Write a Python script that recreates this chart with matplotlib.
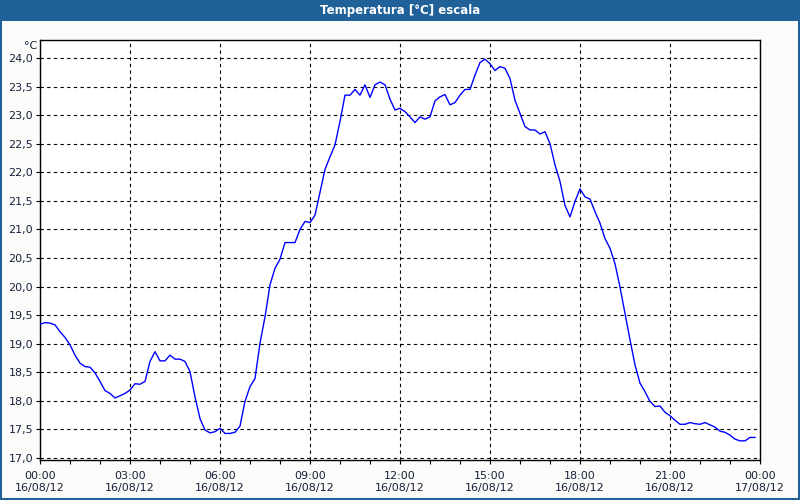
import numpy as np
import matplotlib.pyplot as plt
from matplotlib.patches import Rectangle

# temperature readings every 10 minutes, 16/08/12 00:00 -> 23:50
temps = [
    19.34, 19.37, 19.36, 19.33, 19.21, 19.11, 18.98, 18.80, 18.66, 18.60,
    18.59, 18.49, 18.34, 18.18, 18.13, 18.05, 18.09, 18.13, 18.19, 18.30,
    18.29, 18.34, 18.69, 18.86, 18.70, 18.70, 18.80, 18.73, 18.73, 18.69,
    18.51, 18.07, 17.69, 17.49, 17.44, 17.46, 17.52, 17.43, 17.43, 17.45,
    17.56, 17.99, 18.25, 18.39, 19.01, 19.47, 20.03, 20.32, 20.48, 20.77,
    20.77, 20.77, 21.00, 21.14, 21.12, 21.25, 21.65, 22.05, 22.27, 22.48,
    22.89, 23.35, 23.35, 23.45, 23.35, 23.53, 23.31, 23.53, 23.58, 23.53,
    23.28, 23.09, 23.12, 23.06, 22.97, 22.87, 22.97, 22.93, 22.97, 23.25,
    23.32, 23.36, 23.18, 23.22, 23.35, 23.45, 23.45, 23.70, 23.92, 23.98,
    23.90, 23.78, 23.85, 23.82, 23.64, 23.26, 23.03, 22.80, 22.74, 22.74,
    22.67, 22.71, 22.50, 22.13, 21.84, 21.42, 21.22, 21.49, 21.71, 21.57,
    21.53, 21.31, 21.11, 20.84, 20.67, 20.40, 19.99, 19.53, 19.07, 18.63,
    18.31, 18.16, 17.99, 17.90, 17.91, 17.80, 17.74, 17.66, 17.59, 17.59,
    17.62, 17.60, 17.59, 17.62, 17.58, 17.54, 17.47, 17.45, 17.40, 17.33,
    17.30, 17.30, 17.36, 17.36,
]
hours = np.arange(len(temps)) * 10 / 60.0

xtick_hours = [0, 3, 6, 9, 12, 15, 18, 21, 24]
xtick_labels = ['00:00\n16/08/12', '03:00\n16/08/12', '06:00\n16/08/12',
                '09:00\n16/08/12', '12:00\n16/08/12', '15:00\n16/08/12',
                '18:00\n16/08/12', '21:00\n16/08/12', '00:00\n17/08/12']
yticks = np.arange(17.0, 24.01, 0.5)

title = 'Temperatura [°C] escala'
blue = '#1f6198'
txt = '#1e1e3c'

fig = plt.figure(figsize=(8, 5), dpi=100)
fig.patch.set_facecolor('#fafcfa')

# window frame: title bar and thin border
fig.patches.append(Rectangle((0, 0.958), 1, 0.042, transform=fig.transFigure,
                             facecolor=blue, edgecolor='none', zorder=0))
for r in [(0, 0, 0.003, 1), (0.997, 0, 0.003, 1), (0, 0, 1, 0.005)]:
    fig.patches.append(Rectangle(r[:2], r[2], r[3], transform=fig.transFigure,
                                 facecolor=blue, edgecolor='none', zorder=0))
fig.text(0.5, 0.979, title, color='white', fontsize=8.5, fontweight='bold',
         ha='center', va='center')

ax = fig.add_axes([0.05, 0.08, 0.90, 0.84])
ax.set_facecolor('white')
ax.plot(hours, temps, color='#0000ff', lw=1.0, zorder=3)

ax.set_xlim(0, 24)
ax.set_ylim(16.965, 24.315)
ax.set_xticks(xtick_hours)
ax.set_xticklabels(xtick_labels)
ax.set_xticks(np.arange(0, 25, 1), minor=True)
ax.set_yticks(yticks)
ax.set_yticklabels([f'{v:.1f}'.replace('.', ',') for v in yticks])

ax.tick_params(axis='both', which='both', direction='out', length=3,
               width=0.8, colors='black', labelcolor=txt, labelsize=8, pad=2)
ax.tick_params(axis='x', which='major', pad=5)
ax.grid(True, which='major', color='black', linestyle=(0, (3, 3)), lw=0.8)
for s in ax.spines.values():
    s.set_color('black')
    s.set_linewidth(1.0)

fig.text(0.047, 0.908, '°C', color=txt, fontsize=8, ha='right', va='center')

fig.savefig('out.png', dpi=100, facecolor=fig.get_facecolor())
